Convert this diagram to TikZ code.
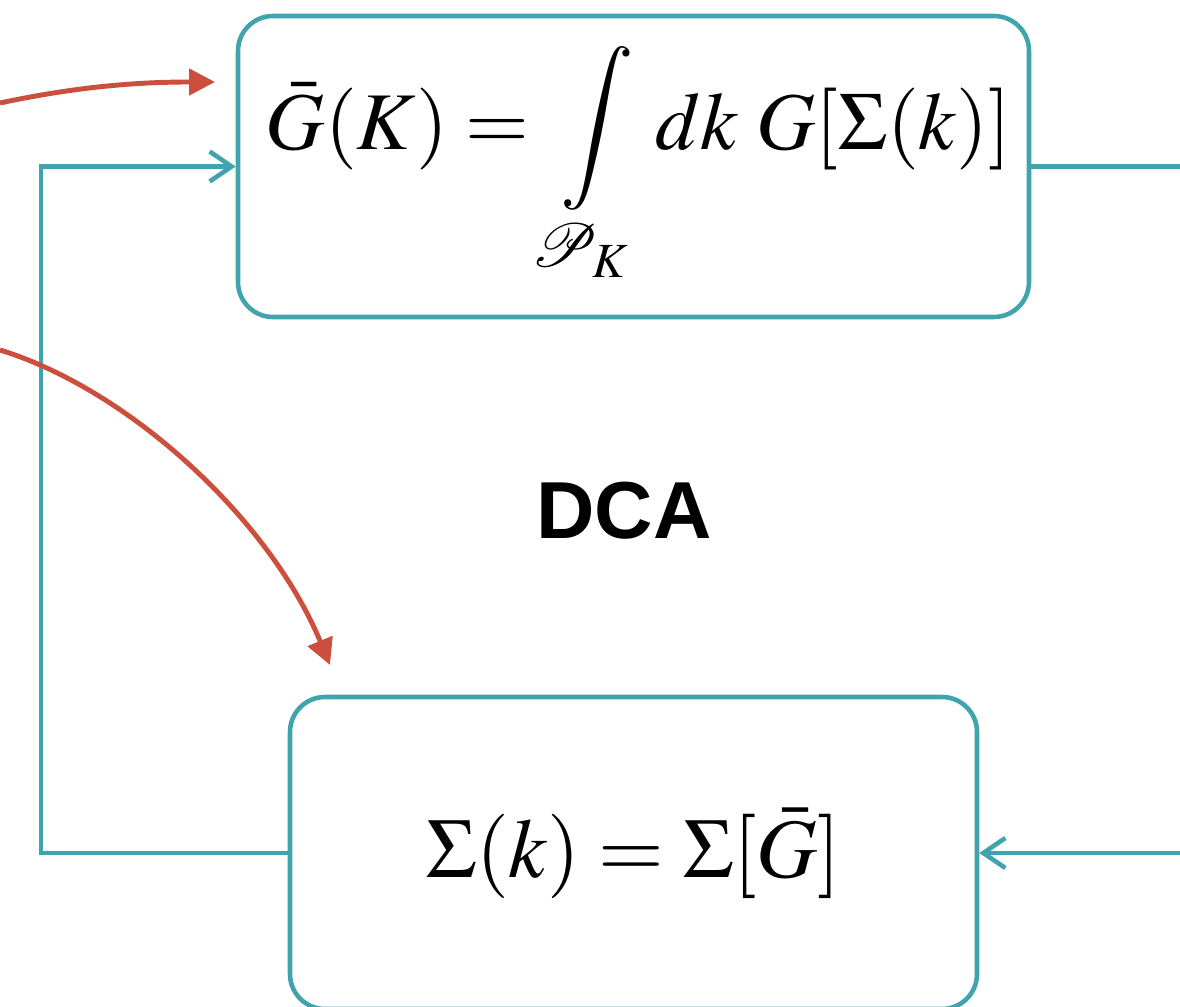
\documentclass[tikz,border=0pt]{standalone}
\usepackage{mathptmx}
\usepackage{mathrsfs}
\usepackage[no-math]{fontspec}
\newfontfamily\labelfont{Liberation Sans}
\usepackage{xcolor}
\usepackage{tikz}
\usetikzlibrary{arrows.meta,positioning}
\definecolor{teal}{HTML}{3FA4AE}
\definecolor{brick}{HTML}{CC4F3D}

\begin{document}
\begin{tikzpicture}[
  x=0.1mm,y=-0.1mm,
  loopbox/.style={draw=teal,line width=1.3pt,rounded corners=3.5mm,align=center,inner sep=0pt},
  feed/.style={-{Straight Barb[length=2.2mm,width=3mm,line width=1.3pt]},line width=1.3pt,draw=teal},
  link/.style={-{Triangle[length=2.6mm,width=2.6mm]},line width=1.4pt,draw=brick}
]
\useasboundingbox (0,0) rectangle (1180,1007);
\clip (0,0) rectangle (1180,1007);
\node[loopbox,minimum width=79.1mm,minimum height=30.1mm,font=\fontsize{23.3}{28}\selectfont] (coarse) at (633.5,166.5)
  {\raisebox{-0.6mm}{\hspace{1mm}$\displaystyle \bar{G}(K) = \int\limits_{\mathscr{P}_K} dk\; G[\Sigma(k)]$}};
\node[loopbox,minimum width=68.7mm,minimum height=31.2mm,font=\fontsize{24}{29}\selectfont] (self) at (633.5,853)
  {\raisebox{-0.5mm}{$\Sigma(k) = \Sigma[\bar{G}]$}};
\node[font=\labelfont\bfseries\fontsize{23}{28}\selectfont] (dca) at (624,511) {DCA};
% loop connectors
\coordinate (outR) at (1180,166.5);
\coordinate (inR) at (1180,853);
\coordinate (corner) at (41,853);
\draw[teal,line width=1.3pt] (coarse.east) -- (outR);
\draw[feed] (inR) -- (self.east);
\draw[feed] (self.west) -- (corner) |- (coarse.west);
% incoming curves
\coordinate (srcA) at (0,103);
\coordinate (srcB) at (0,350);
\coordinate (tipA) at (215,82);
\coordinate (tipB) at (330,665);
\draw[link] (srcA) .. controls (80,86) and (140,82) .. (tipA);
\draw[link] (srcB) .. controls (130,390) and (270,520) .. (tipB);
\end{tikzpicture}
\end{document}
